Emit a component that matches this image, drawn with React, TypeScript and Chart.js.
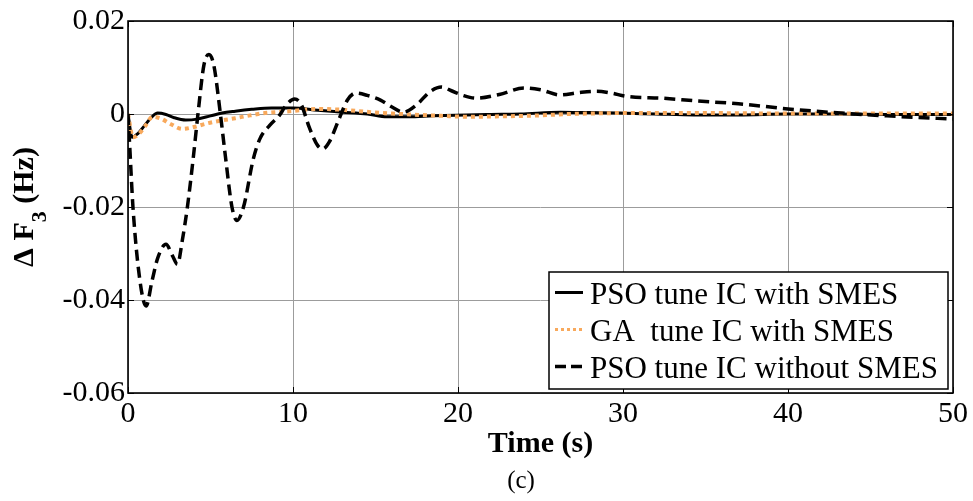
import React, { useEffect, useRef } from "react";
import { Chart, registerables } from "chart.js";
Chart.register(...registerables);

// PSO tune IC with SMES (solid black)
const psoTime = [0, 0.25, 0.6, 1.0, 1.4, 1.8, 2.3, 2.8, 3.5, 4.2, 5.0, 5.7, 6.5, 7.5, 8.7, 10, 11.5, 13, 14.5, 15.7, 17, 18.5, 20.5, 22, 23.8, 26.2, 28, 29.8, 32, 34.3, 37, 40, 43, 46, 50];
const psoValues = [0, -0.005, -0.0042, -0.0025, -0.0008, 0.0002, -0.0001, -0.0008, -0.0013, -0.0011, -0.0004, 0.0002, 0.0006, 0.001, 0.0013, 0.0013, 0.0008, 0.0004, 0, -0.0006, -0.0006, -0.0004, -0.0002, -0.0001, 0, 0.0004, 0.0003, 0.0002, 0, -0.0002, -0.0002, 0, 0, -0.0001, -0.0001];

// GA tune IC with SMES (orange dotted)
const gaTime = [0, 0.3, 0.6, 1.0, 1.5, 2.0, 2.6, 3.3, 4.0, 4.7, 5.5, 6.5, 7.4, 8.3, 9.8, 11.6, 13, 14.7, 16, 17.7, 19, 20.6, 22.5, 24.2, 25.5, 26.8, 28, 29.8, 35, 40, 45, 50];
const gaValues = [0, -0.005, -0.0045, -0.0028, -0.0006, -0.001, -0.0022, -0.0032, -0.0028, -0.0021, -0.0015, -0.0009, -0.0003, 0.0002, 0.0006, 0.0011, 0.0009, 0.0004, 0.0001, -0.0002, -0.0004, -0.0006, -0.0005, -0.0004, -0.0002, 0, 0.0001, 0.0002, 0.0002, 0.0001, 0.0001, 0.0001];

// PSO tune IC without SMES (black dashed)
const noSmesTime = [0, 0.12, 0.3, 0.73, 1.1, 1.45, 1.8, 2.3, 2.7, 3.0, 3.3, 3.6, 3.95, 4.24, 4.6, 4.9, 5.2, 5.6, 5.9, 6.3, 6.6, 7.0, 7.6, 8.0, 8.6, 9.2, 9.6, 10.1, 10.5, 11.0, 11.5, 11.8, 12.2, 12.8, 13.3, 13.8, 14.5, 15.3, 16.0, 16.7, 17.5, 18.3, 19.0, 19.6, 20.3, 21.1, 22.5, 24.0, 25.0, 26.2, 27.3, 28.4, 29.3, 30.2, 32.4, 34.5, 37, 40, 43.2, 46, 50];
const noSmesValues = [0, -0.008, -0.02, -0.036, -0.0413, -0.036, -0.031, -0.028, -0.0305, -0.0323, -0.027, -0.02, -0.0096, 0, 0.0105, 0.0128, 0.0105, 0, -0.009, -0.02, -0.0229, -0.02, -0.0096, -0.0053, -0.0024, -0.0002, 0.002, 0.0032, 0.002, -0.003, -0.0068, -0.0075, -0.006, -0.001, 0.003, 0.0045, 0.004, 0.003, 0.0015, 0.0004, 0.002, 0.0048, 0.0058, 0.005, 0.004, 0.0034, 0.0042, 0.0056, 0.0052, 0.0041, 0.0046, 0.0049, 0.0045, 0.0038, 0.0034, 0.0028, 0.0022, 0.0011, 0.0002, -0.0004, -0.0011];

const xTickValues = [0, 10, 20, 30, 40, 50];
const xTickLabels = ["0", "10", "20", "30", "40", "50"];
const yTickValues = [-0.06, -0.04, -0.02, 0, 0.02];
const yTickLabels = ["-0.06", "-0.04", "-0.02", "0", "0.02"];
const seriesLabels = ["PSO tune IC with SMES", "GA  tune IC with SMES", "PSO tune IC without SMES"];
const xTitle = "Time (s)";
const caption = "(c)";

const ORANGE = "#F8A95C";
const FONT = "'Liberation Serif', 'Times New Roman', serif";

const toPoints = (xs: number[], ys: number[]) => xs.map((x, i) => ({ x, y: ys[i] }));

const decorPlugin = {
  id: "decor",
  afterDraw(chart: any) {
    const ctx = chart.ctx as CanvasRenderingContext2D;
    const { left, right, top, bottom } = chart.chartArea;
    const xs = chart.scales.x;
    const ys = chart.scales.y;
    ctx.save();
    // inward tick marks
    ctx.strokeStyle = "#000";
    ctx.lineWidth = 1;
    xTickValues.forEach((v) => {
      const px = Math.round(xs.getPixelForValue(v)) + 0.5;
      ctx.beginPath();
      ctx.moveTo(px, bottom);
      ctx.lineTo(px, bottom - 6);
      ctx.moveTo(px, top);
      ctx.lineTo(px, top + 6);
      ctx.stroke();
    });
    yTickValues.forEach((v) => {
      const py = Math.round(ys.getPixelForValue(v)) + 0.5;
      ctx.beginPath();
      ctx.moveTo(left, py);
      ctx.lineTo(left + 6, py);
      ctx.moveTo(right, py);
      ctx.lineTo(right - 6, py);
      ctx.stroke();
    });
    // box
    ctx.lineWidth = 1.6;
    ctx.strokeRect(left, top, right - left, bottom - top);

    // x title
    ctx.fillStyle = "#000";
    ctx.font = `bold 30px ${FONT}`;
    ctx.textAlign = "center";
    ctx.textBaseline = "alphabetic";
    ctx.fillText(xTitle, (left + right) / 2, 452);
    // caption
    ctx.font = `25px ${FONT}`;
    ctx.fillText(caption, 521, 488);

    // y title with subscript
    ctx.save();
    ctx.translate(33, 207);
    ctx.rotate(-Math.PI / 2);
    ctx.textAlign = "left";
    const p1 = "\u0394 F";
    const p2 = "3";
    const p3 = " (Hz)";
    ctx.font = `bold 30px ${FONT}`;
    const w1 = ctx.measureText(p1).width;
    const w3 = ctx.measureText(p3).width;
    ctx.font = `bold 22px ${FONT}`;
    const w2 = ctx.measureText(p2).width;
    const start = -(w1 + w2 + w3) / 2;
    ctx.font = `bold 30px ${FONT}`;
    ctx.fillText(p1, start, 0);
    ctx.font = `bold 22px ${FONT}`;
    ctx.fillText(p2, start + w1, 13);
    ctx.font = `bold 30px ${FONT}`;
    ctx.fillText(p3, start + w1 + w2, 0);
    ctx.restore();

    // legend
    const lx0 = 549, lx1 = 948, ly0 = 272, ly1 = 389;
    ctx.fillStyle = "#fff";
    ctx.fillRect(lx0, ly0, lx1 - lx0, ly1 - ly0);
    ctx.strokeStyle = "#000";
    ctx.lineWidth = 1.5;
    ctx.strokeRect(lx0, ly0, lx1 - lx0, ly1 - ly0);
    const baselines = [304, 341, 378];
    const styles = [
      { color: "#000", width: 3, dash: [] as number[] },
      { color: ORANGE, width: 3, dash: [3, 3] },
      { color: "#000", width: 3.5, dash: [11, 5] },
    ];
    ctx.textAlign = "left";
    ctx.font = `31px ${FONT}`;
    seriesLabels.forEach((label, i) => {
      const b = baselines[i];
      const st = styles[i];
      ctx.beginPath();
      ctx.setLineDash(st.dash);
      ctx.strokeStyle = st.color;
      ctx.lineWidth = st.width;
      ctx.moveTo(555, b - 11.5);
      ctx.lineTo(583, b - 11.5);
      ctx.stroke();
      ctx.setLineDash([]);
      ctx.fillStyle = "#000";
      ctx.fillText(label, 590, b);
    });
    ctx.restore();
  },
};

export default function App() {
  const canvasRef = useRef<HTMLCanvasElement>(null);
  useEffect(() => {
    if (!canvasRef.current) return;
    const chart = new Chart(canvasRef.current, {
      type: "line",
      data: {
        datasets: [
          {
            label: seriesLabels[0],
            data: toPoints(psoTime, psoValues),
            borderColor: "#000",
            borderWidth: 3,
            pointRadius: 0,
            cubicInterpolationMode: "monotone",
            order: 2,
          },
          {
            label: seriesLabels[1],
            data: toPoints(gaTime, gaValues),
            borderColor: ORANGE,
            borderWidth: 4,
            borderDash: [4, 4],
            pointRadius: 0,
            cubicInterpolationMode: "monotone",
            order: 1,
          },
          {
            label: seriesLabels[2],
            data: toPoints(noSmesTime, noSmesValues),
            borderColor: "#000",
            borderWidth: 3.5,
            borderDash: [11, 6],
            pointRadius: 0,
            cubicInterpolationMode: "monotone",
            order: 0,
          },
        ],
      },
      options: {
        responsive: false,
        animation: false,
        events: [],
        layout: { padding: { left: 0, right: 20, top: 19, bottom: 0 } },
        plugins: { legend: { display: false }, tooltip: { enabled: false } },
        scales: {
          x: {
            type: "linear",
            min: 0,
            max: 50,
            afterBuildTicks: (s: any) => {
              s.ticks = xTickValues.map((v) => ({ value: v }));
            },
            afterFit: (s: any) => {
              s.height = 108;
            },
            ticks: {
              padding: 3,
              color: "#000",
              font: { family: FONT, size: 30 },
              maxRotation: 0,
              callback: (v: any) => {
                const i = xTickValues.indexOf(Math.round(Number(v)));
                return i >= 0 ? xTickLabels[i] : "";
              },
            },
            grid: { color: "#9c9c9c", lineWidth: 1, drawTicks: false },
            border: { display: false },
          },
          y: {
            type: "linear",
            min: -0.06,
            max: 0.02,
            afterBuildTicks: (s: any) => {
              s.ticks = yTickValues.map((v) => ({ value: v }));
            },
            afterFit: (s: any) => {
              s.width = 128;
            },
            ticks: {
              padding: 3,
              color: "#000",
              font: { family: FONT, size: 30 },
              callback: (v: any) => {
                const i = yTickValues.findIndex((t) => Math.abs(t - Number(v)) < 1e-9);
                return i >= 0 ? yTickLabels[i] : "";
              },
            },
            grid: { color: "#9c9c9c", lineWidth: 1, drawTicks: false },
            border: { display: false },
          },
        },
      },
      plugins: [decorPlugin],
    } as any);
    return () => chart.destroy();
  }, []);
  return (
    <div style={{ position: "fixed", left: 0, top: 0, width: 973, height: 501, background: "#fff" }}>
      <canvas ref={canvasRef} width={973} height={501} style={{ width: 973, height: 501, display: "block" }} />
    </div>
  );
}
